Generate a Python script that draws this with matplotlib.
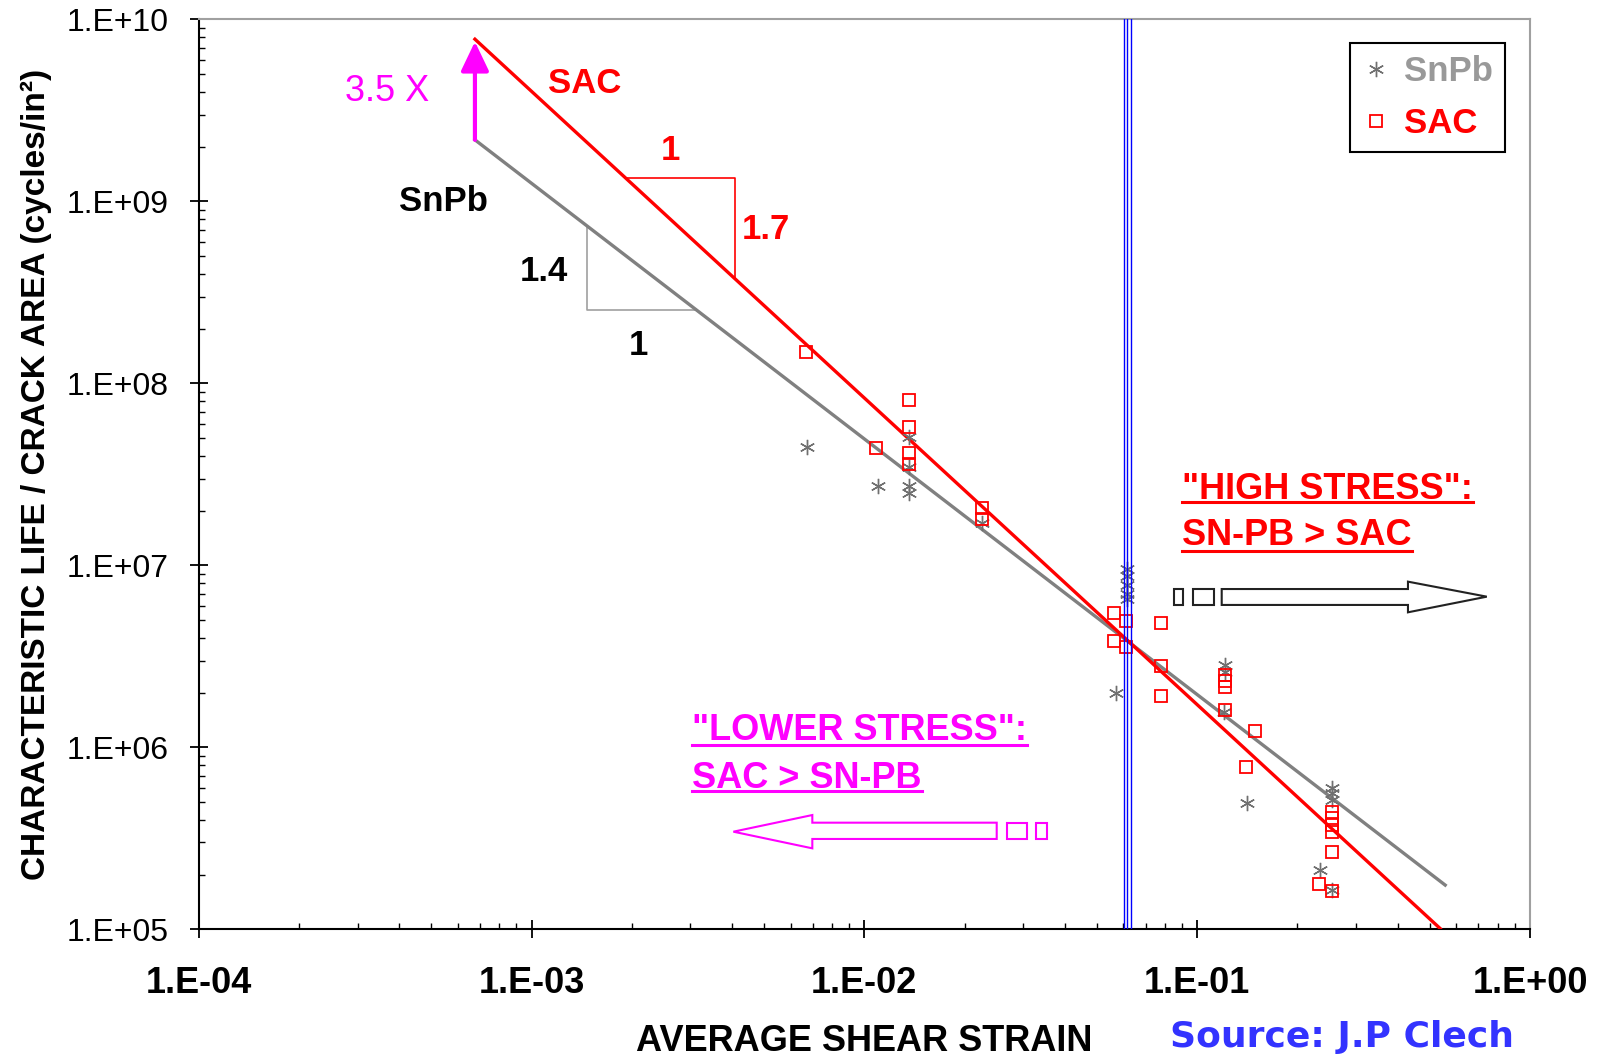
import numpy as np
import matplotlib.pyplot as plt
from matplotlib.lines import Line2D
from matplotlib.patches import Polygon, Rectangle
from matplotlib.ticker import NullFormatter

plt.rcParams['font.family'] = ['Liberation Sans', 'DejaVu Sans']

# --- data ---
snpb_strain = [6.72e-3, 1.096e-2, 1.36e-2, 1.36e-2, 1.36e-2, 1.36e-2, 2.26e-2,
               0.0614, 0.0614, 0.0614, 0.0614, 0.0614, 0.0569,
               0.121, 0.121, 0.120, 0.141, 0.254, 0.254, 0.254, 0.234, 0.254]
snpb_life = [4.49e7, 2.74e7, 5.1e7, 3.48e7, 2.74e7, 2.49e7, 1.70e7,
             9.6e6, 8.7e6, 7.8e6, 7.0e6, 6.5e6, 2.0e6,
             2.84e6, 2.6e6, 1.57e6, 4.97e5, 5.96e5, 5.59e5, 5.14e5, 2.12e5, 1.65e5]

sac_strain = [6.68e-3, 1.084e-2, 1.36e-2, 1.36e-2, 1.36e-2, 1.36e-2, 2.26e-2, 2.26e-2,
              0.0564, 0.0564, 0.061, 0.061, 0.0777, 0.0777, 0.0777,
              0.121, 0.121, 0.121, 0.121, 0.149, 0.140,
              0.254, 0.254, 0.254, 0.254, 0.254, 0.2325, 0.254]
sac_life = [1.48e8, 4.43e7, 8.1e7, 5.78e7, 4.16e7, 3.61e7, 2.06e7, 1.79e7,
            5.46e6, 3.84e6, 4.97e6, 3.55e6, 4.81e6, 2.8e6, 1.92e6,
            2.50e6, 2.31e6, 2.15e6, 1.60e6, 1.23e6, 7.83e5,
            4.43e5, 4.07e5, 3.74e5, 3.44e5, 2.65e5, 1.77e5, 1.63e5]

# fitted power-law lines (end points)
sac_fit_strain = [6.76e-4, 0.537]
sac_fit_life = [7.79e9, 1.01e5]
snpb_fit_strain = [6.76e-4, 0.556]
snpb_fit_life = [2.18e9, 1.75e5]

# slope triangles (strain range along each line)
sac_tri_strain = [1.91e-3, 4.09e-3]
snpb_tri_strain = [1.466e-3, 3.135e-3]

# transition strain (blue lines)
blue_strain = [0.0603, 0.0617, 0.0632]

x_ticks = [1e-4, 1e-3, 1e-2, 1e-1, 1e0]
y_ticks = [1e5, 1e6, 1e7, 1e8, 1e9, 1e10]


def fit(xs, ys, x):
    lx, ly = np.log10(xs), np.log10(ys)
    b = (ly[1] - ly[0]) / (lx[1] - lx[0])
    return 10 ** (ly[0] + b * (np.log10(x) - lx[0]))


def exp_label(v):
    return f"1.E{int(round(np.log10(v))):+03d}"


fig = plt.figure(figsize=(16.05, 10.57), dpi=100)
ax = fig.add_axes([0.1238, 0.1208, 0.8295, 0.8608])
ax.set_xscale('log')
ax.set_yscale('log')
ax.set_xlim(1e-4, 1)
ax.set_ylim(1e5, 1e10)

# blue transition lines
for s in blue_strain:
    ax.axvline(s, color='#0000ff', lw=1.0, zorder=5)

# fitted lines
ax.plot(snpb_fit_strain, snpb_fit_life, color='#808080', lw=2.4, zorder=3)
ax.plot(sac_fit_strain, sac_fit_life, color='#ff0000', lw=2.4, zorder=3)

# points
ax.plot(snpb_strain, snpb_life, ls='none', marker=(6, 2, 0), ms=11,
        mec='#707070', mew=1.0, zorder=4)
ax.plot(sac_strain, sac_life, ls='none', marker='s', ms=9, mfc='none',
        mec='#ff0000', mew=1.3, zorder=4)

# slope triangles
x1, x2 = sac_tri_strain
ax.plot([x1, x2, x2], [fit(sac_fit_strain, sac_fit_life, x1)] * 2 +
        [fit(sac_fit_strain, sac_fit_life, x2)], color='#ff0000', lw=1.2, zorder=2)
x1, x2 = snpb_tri_strain
ax.plot([x1, x1, x2], [fit(snpb_fit_strain, snpb_fit_life, x1)] +
        [fit(snpb_fit_strain, snpb_fit_life, x2)] * 2, color='#a0a0a0', lw=1.2, zorder=2)

# magenta 3.5X arrow
x0 = snpb_fit_strain[0]
ax.annotate('', xy=(x0, 7.55e9), xytext=(x0, snpb_fit_life[0]),
            arrowprops=dict(arrowstyle='-|>,head_length=0.9,head_width=0.43',
                            mutation_scale=20, color='#ff00ff', lw=3,
                            shrinkA=0, shrinkB=0), zorder=6)

# text annotations
T = ax.transAxes
ax.text(0.2898, 0.9299, 'SAC', color='#ff0000', fontsize=25, fontweight='bold',
        ha='center', va='center', transform=T)
ax.text(0.1835, 0.8000, 'SnPb', color='black', fontsize=25, fontweight='bold',
        ha='center', va='center', transform=T)
ax.text(0.1418, 0.9206, '3.5 X', color='#ff00ff', fontsize=26,
        ha='center', va='center', transform=T)
ax.text(0.3540, 0.8565, '1', color='#ff0000', fontsize=25, fontweight='bold',
        ha='center', va='center', transform=T)
ax.text(0.4262, 0.7686, '1.7', color='#ff0000', fontsize=25, fontweight='bold',
        ha='center', va='center', transform=T)
ax.text(0.2594, 0.7230, '1.4', color='black', fontsize=25, fontweight='bold',
        ha='center', va='center', transform=T)
ax.text(0.3305, 0.6411, '1', color='black', fontsize=25, fontweight='bold',
        ha='center', va='center', transform=T)

underlined = []
for txt, y, uy, col in [('"HIGH STRESS":', 0.4730, 0.4697, '#ff0000'),
                        ('SN-PB > SAC', 0.4224, 0.4161, '#ff0000')]:
    t = ax.text(0.7386, y, txt, color=col, fontsize=26, fontweight='bold',
                ha='left', va='baseline', transform=T)
    underlined.append((t, uy, col))
for txt, y, uy, col in [('"LOWER STRESS":', 0.2081, 0.2026, '#ff00ff'),
                        ('SAC > SN-PB', 0.1553, 0.1520, '#ff00ff')]:
    t = ax.text(0.3706, y, txt, color=col, fontsize=26, fontweight='bold',
                ha='left', va='baseline', transform=T)
    underlined.append((t, uy, col))

# hollow arrows
blk = '#222222'
ax.add_patch(Rectangle((0.7326, 0.3565), 0.0065, 0.0175, transform=T,
                       fill=False, ec=blk, lw=1.5))
ax.add_patch(Rectangle((0.7471, 0.3565), 0.0155, 0.0175, transform=T,
                       fill=False, ec=blk, lw=1.5))
ax.add_patch(Polygon([(0.7684, 0.3565), (0.9083, 0.3565), (0.9083, 0.3484),
                      (0.9675, 0.3656), (0.9083, 0.3821), (0.9083, 0.3740),
                      (0.7684, 0.3740)], closed=True, transform=T,
                     fill=False, ec=blk, lw=1.5))
mag = '#ff00ff'
ax.add_patch(Polygon([(0.5994, 0.0993), (0.4609, 0.0993), (0.4609, 0.0890),
                      (0.4016, 0.1073), (0.4609, 0.1256), (0.4609, 0.1172),
                      (0.5994, 0.1172)], closed=True, transform=T,
                     fill=False, ec=mag, lw=1.5))
ax.add_patch(Rectangle((0.6074, 0.0993), 0.0145, 0.0179, transform=T,
                       fill=False, ec=mag, lw=1.5))
ax.add_patch(Rectangle((0.6287, 0.0993), 0.0083, 0.0179, transform=T,
                       fill=False, ec=mag, lw=1.5))

# legend
handles = [Line2D([], [], ls='none', marker=(6, 2, 0), ms=11, mec='#707070', mew=1.0),
           Line2D([], [], ls='none', marker='s', ms=9, mfc='none', mec='#ff0000', mew=1.3)]
leg = ax.legend(handles, ['SnPb', 'SAC'], loc='upper right',
                bbox_to_anchor=(0.9812, 0.9742), borderaxespad=0,
                prop=dict(weight='bold', size=25), fancybox=False,
                framealpha=1, edgecolor='black', handlelength=0.8,
                handletextpad=0.4, borderpad=0.35, labelspacing=0.55)
leg.get_frame().set_linewidth(1.5)
for t, c in zip(leg.get_texts(), ['#999999', '#ff0000']):
    t.set_color(c)

# axes styling
ax.set_xticks(x_ticks, labels=[exp_label(v) for v in x_ticks],
              fontsize=26, fontweight='bold')
ax.set_yticks(y_ticks, labels=[exp_label(v) for v in y_ticks], fontsize=23)
ax.xaxis.set_minor_formatter(NullFormatter())
ax.yaxis.set_minor_formatter(NullFormatter())
ax.tick_params(which='major', direction='inout', length=13, width=1.3)
ax.tick_params(axis='y', which='major', pad=15)
ax.tick_params(axis='x', which='major', pad=20)
ax.tick_params(which='minor', direction='in', length=4.5, width=1.0)
for side in ['left', 'bottom']:
    ax.spines[side].set_linewidth(1.5)
    ax.spines[side].set_color('black')
for side in ['top', 'right']:
    ax.spines[side].set_linewidth(1.5)
    ax.spines[side].set_color('#a0a0a0')

ax.set_ylabel('CHARACTERISTIC LIFE / CRACK AREA (cycles/in²)',
              fontsize=24, fontweight='bold')
ax.yaxis.set_label_coords(-0.1222, 0.5)
ax.yaxis.label.set_va('center')
ax.set_xlabel('AVERAGE SHEAR STRAIN', fontsize=26, fontweight='bold')
ax.xaxis.set_label_coords(0.5, -0.1228)
ax.xaxis.label.set_va('center')

fig.text(1342 / 1605, 1 - 1037 / 1057, 'Source: J.P Clech', color='#3333ff',
         fontsize=26, fontweight='bold', family='DejaVu Sans',
         ha='center', va='center')

# underlines under the stress notes
fig.canvas.draw()
r = fig.canvas.get_renderer()
inv = ax.transAxes.inverted()
for t, uy, col in underlined:
    bb = t.get_window_extent(r)
    xa = inv.transform([(bb.x0, 0), (bb.x1, 0)])[:, 0]
    ax.plot(xa, [uy, uy], color=col, lw=2.2, transform=T, clip_on=False)

fig.savefig('out.png', dpi=100)
